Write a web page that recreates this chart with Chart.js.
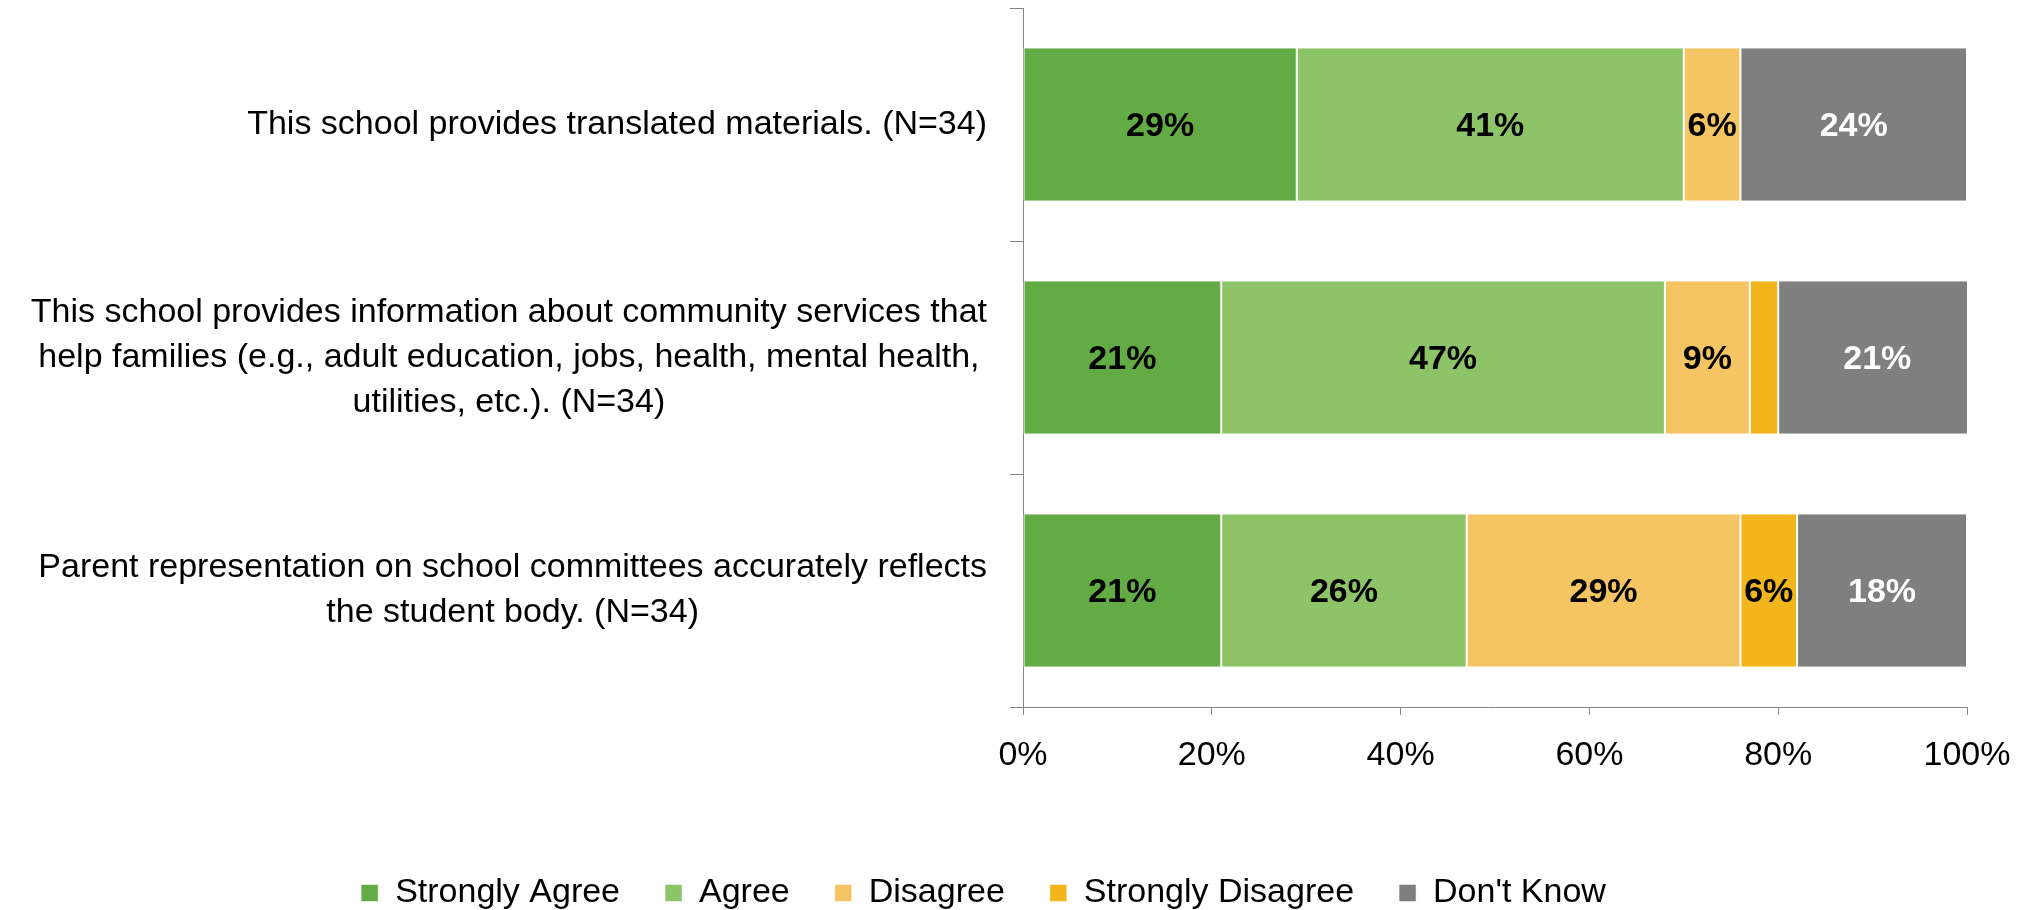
<!DOCTYPE html>
<html>
<head>
<meta charset="utf-8">
<script src="https://cdn.jsdelivr.net/npm/chart.js@4"></script>
<style>
  body { margin: 0; background: #fff; }
</style>
</head>
<body>
<canvas id="graph" width="2028" height="910"></canvas>
<script>
// questions (one entry per bar, lines split like the original)
var categories = [
    ["This school provides translated materials. (N=34)"],
    ["This school provides information about community services that",
     "help families (e.g., adult education, jobs, health, mental health,",
     "utilities, etc.). (N=34)"],
    ["Parent representation on school committees accurately reflects",
     "the student body. (N=34)"]
];

var seriesNames = ["Strongly Agree", "Agree", "Disagree", "Strongly Disagree", "Don't Know"];

var stronglyAgree    = [29, 21, 21];
var agree            = [41, 47, 26];
var disagree         = [6, 9, 29];
var stronglyDisagree = [0, 3, 6];
var dontKnow         = [24, 21, 18];

var xTickValues = [0, 20, 40, 60, 80, 100];

var colors = ["#63AC45", "#8DC468", "#F6C563", "#F2B51C", "#7F7F7F"];
var labelColors = ["#000", "#000", "#000", "#000", "#fff"];

var FONT = "'Liberation Sans', Arial, sans-serif";
var FS = 34;
var axisGray = "#868686";

// percent labels inside the bars
var barLabels = {
    id: "barLabels",
    afterDatasetsDraw: function(chart) {
        var ctx = chart.ctx;
        ctx.save();
        ctx.font = "bold " + FS + "px " + FONT;
        ctx.textAlign = "center";
        ctx.textBaseline = "middle";
        chart.data.datasets.forEach(function(ds, i) {
            var meta = chart.getDatasetMeta(i);
            meta.data.forEach(function(bar, j) {
                var v = ds.data[j];
                if (!v) return;
                var txt = v + "%";
                var w = ctx.measureText(txt).width;
                if (w + 2 > Math.abs(bar.x - bar.base)) return;
                ctx.fillStyle = labelColors[i];
                ctx.fillText(txt, (bar.x + bar.base) / 2, bar.y + 2);
            });
        });
        ctx.restore();
    }
};

// category labels: block right aligned to the axis, lines centred in the block
var catLabels = {
    id: "catLabels",
    afterDraw: function(chart) {
        var ctx = chart.ctx;
        var yScale = chart.scales.y;
        var right = chart.chartArea.left - 36;
        var lineH = 45;
        ctx.save();
        ctx.font = FS + "px " + FONT;
        ctx.fillStyle = "#000";
        ctx.textAlign = "center";
        ctx.textBaseline = "middle";
        chart.data.labels.forEach(function(lines, i) {
            var widest = 0;
            lines.forEach(function(l) { widest = Math.max(widest, ctx.measureText(l).width); });
            var cx = right - widest / 2;
            var y0 = yScale.getPixelForValue(i);
            lines.forEach(function(l, k) {
                ctx.fillText(l, cx, y0 + (k - (lines.length - 1) / 2) * lineH);
            });
        });
        ctx.restore();
    }
};

var seriesData = [stronglyAgree, agree, disagree, stronglyDisagree, dontKnow];

var datasets = seriesNames.map(function(name, i) {
    return {
        label: name,
        data: seriesData[i],
        backgroundColor: colors[i],
        borderColor: "#fff",
        borderWidth: {left: 1, right: 1, top: 0, bottom: 0},
        borderSkipped: false,
        barPercentage: 0.655,
        categoryPercentage: 1
    };
});

var ctx = document.getElementById("graph").getContext("2d");

var graph = new Chart(ctx, {
    type: "bar",
    data: {
        labels: categories,
        datasets: datasets
    },
    options: {
        responsive: false,
        animation: false,
        indexAxis: "y",
        layout: {
            padding: {left: 0, right: 61, top: 8, bottom: -10}
        },
        scales: {
            x: {
                stacked: true,
                min: 0,
                max: 100,
                afterBuildTicks: function(scale) {
                    scale.ticks = xTickValues.map(function(v) { return {value: v}; });
                },
                ticks: {
                    callback: function(v) { return v + "%"; },
                    color: "#000",
                    font: {family: FONT, size: FS},
                    padding: 20,
                    maxRotation: 0
                },
                grid: {
                    drawOnChartArea: false,
                    tickLength: 8,
                    color: axisGray
                },
                border: {display: true, color: axisGray},
                afterFit: function(scale) {
                    scale.height = 124;
                    scale.paddingLeft = 0;
                    scale.paddingRight = 0;
                }
            },
            y: {
                stacked: true,
                ticks: {display: false},
                grid: {
                    offset: true,
                    drawOnChartArea: false,
                    tickLength: 13,
                    color: axisGray
                },
                border: {display: true, color: axisGray},
                afterFit: function(scale) { scale.width = 1023; }
            }
        },
        plugins: {
            legend: {
                position: "bottom",
                labels: {
                    boxWidth: 17,
                    boxHeight: 17,
                    padding: 45,
                    color: "#000",
                    font: {family: FONT, size: FS}
                }
            },
            tooltip: {enabled: false}
        }
    },
    plugins: [barLabels, catLabels]
});
</script>
</body>
</html>
